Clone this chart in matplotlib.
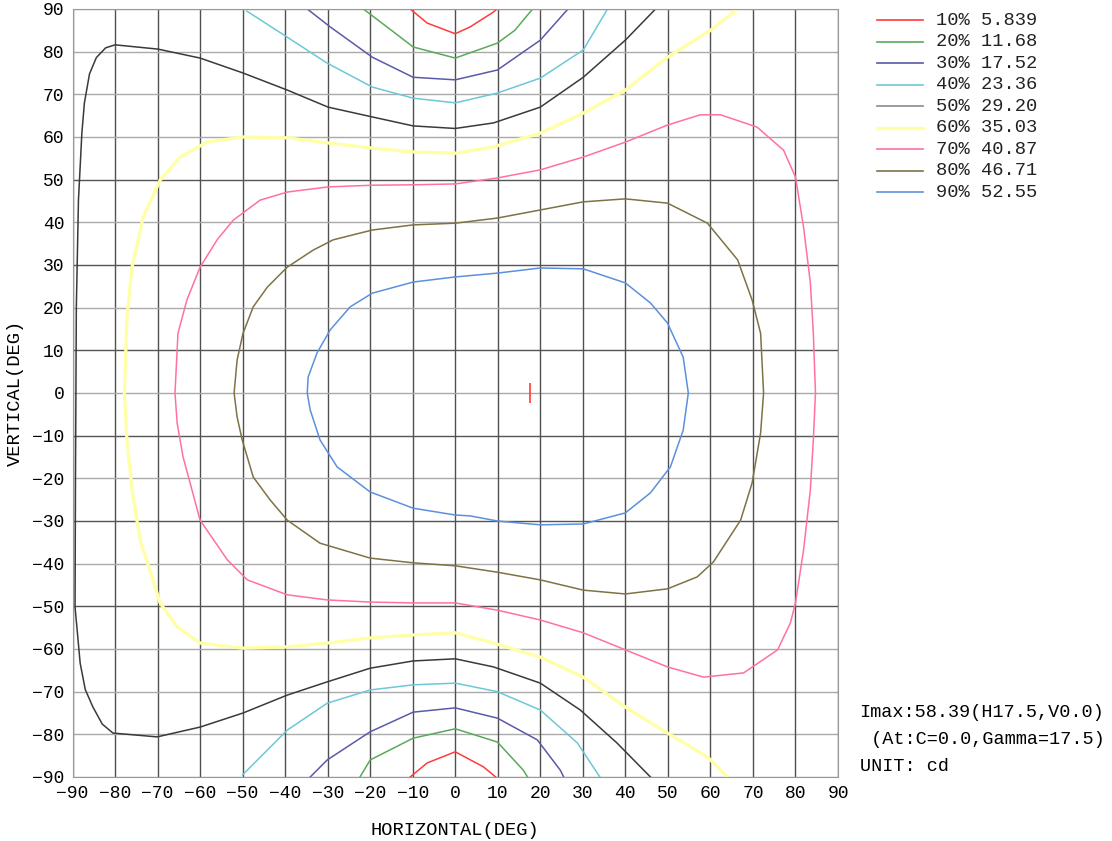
import matplotlib.pyplot as plt
from matplotlib.lines import Line2D

plt.rcParams['font.family'] = ['Liberation Mono', 'DejaVu Sans Mono']

# legend levels (percent of Imax and value in cd)
percents = [10, 20, 30, 40, 50, 60, 70, 80, 90]
values = ["5.839", "11.68", "17.52", "23.36", "29.20", "35.03", "40.87", "46.71", "52.55"]
colors = ['#ff3b3b', '#5aaa5a', '#5a5aa8', '#6cc8d8', '#8a8a8a',
          '#ffffa8', '#ff70a6', '#7d7345', '#5d90dc']

# isocandela lines (H deg, V deg)
c10_top_x = [-10.6, -6.6, 0, 3.5, 9.0, 9.8]
c10_top_y = [90, 86.7, 84.2, 85.8, 89.3, 90]
c10_bot_x = [-10.6, -6.6, 0, 6.6, 9.5]
c10_bot_y = [-90, -86.7, -84.1, -87.6, -90]

c20_top_x = [-21.6, -15, -9.9, 0, 9.9, 14, 17.6, 18.2]
c20_top_y = [90, 85, 81.1, 78.5, 82, 85, 89.3, 90]
c20_bot_x = [-22.4, -20, -9.9, 0, 9.9, 16, 17]
c20_bot_y = [-90, -86, -80.9, -78.7, -81.8, -88.4, -90]

c30_top_x = [-34.8, -29.4, -19.5, -9.9, 0, 9.9, 20, 26.5]
c30_top_y = [90, 85.8, 78.7, 74, 73.4, 75.7, 82.7, 90]
c30_bot_x = [-34.1, -30.1, -20, -9.9, 0, 9.9, 19.3, 24.7, 25.5]
c30_bot_y = [-90, -86, -79.4, -74.8, -73.8, -76.2, -81.3, -88.4, -90]

c40_top_x = [-49, -39.5, -30.1, -19.5, -9.9, 0, 9.9, 20, 30.1, 35.8]
c40_top_y = [89.5, 83.4, 77.3, 71.7, 69.1, 68, 70.3, 73.8, 80.4, 90]
c40_bot_x = [-50, -39.5, -30.1, -20, -9.9, 0, 9.9, 20, 28.7, 34]
c40_bot_y = [-89.5, -79, -72.7, -69.6, -68.4, -68, -70, -74.3, -82, -90]

c50_x = [47.1, 40, 30.1, 20, 9, 0, -9.9, -19.5, -29.9, -39.5, -49.9, -60, -69.9, -80,
         -82.2, -84.4, -86.0, -87.2, -87.8, -88.6, -89.1, -89.2, -89.3, -89.4, -88.2,
         -87.0, -85.2, -83.0, -80.5, -70.1,
         -60, -49.9, -39.5, -30.1, -20, -9.9, 0, 9, 20, 29.4, 38, 45.9]
c50_y = [90, 82.7, 74, 67, 63.3, 62, 62.6, 64.7, 67, 71, 75, 78.5, 80.6, 81.6,
         80.9, 78.6, 74.8, 68.0, 60.9, 45.2, 20, 0, -20, -50.2, -63.3,
         -69.5, -73.6, -77.6, -79.7, -80.6,
         -78.3, -75, -70.8, -67.7, -64.5, -62.8, -62.3, -64.2, -68, -74.3, -82, -90]

c60_x = [66.4, 60, 49.9, 40, 30.1, 20, 9, 0, -9.9, -19.5, -29.9, -39.5, -49.9, -58.4,
         -64.7, -69.4, -73.4, -76, -77.2, -77.8, -77.2, -76, -74.1, -71.3, -69.4, -65.4,
         -60, -49.9, -39.5, -30.1, -20, -9.9, 0, 9, 20, 30.1, 40, 49.9, 59.3, 64]
c60_y = [90, 85, 78.7, 71, 65.6, 60.9, 57.7, 56.2, 56.5, 57.4, 58.6, 59.8, 60, 58.8,
         55.3, 49.9, 41.2, 29.5, 17.8, 0, -11, -22.7, -34.5, -43.1, -49.2, -54.8,
         -58.6, -59.8, -59.5, -58.6, -57.4, -56.7, -56.2, -58.6, -61.9, -66.6, -73.6,
         -79.7, -85.3, -90]

c70_x = [0, -9.9, -19.5, -29.9, -39.5, -45.9, -52.2, -56, -60, -63.1,
         -65.2, -65.9, -65.4, -64, -60, -53.6, -48.9, -39.5, -30.1, -20,
         -9.9, 0, 9.9, 20, 30.1, 40, 49.9, 58.4, 67.8, 75.8,
         78.8, 80, 81.9, 83.5, 84.2, 84.7, 84.2, 83.5, 81.9, 80,
         77.2, 71, 62.4, 57.6, 49.9, 40, 30.1, 20, 9.9, 0]
c70_y = [49, 48.8, 48.7, 48.3, 47.1, 45.2, 40.5, 35.9, 29.5, 21.8,
         14, 0, -7, -15, -29.8, -39.1, -43.8, -47.3, -48.5, -49,
         -49.2, -49.2, -50.9, -53.2, -56.2, -60.2, -64.2, -66.6, -65.6, -60.2,
         -53.9, -49.2, -36.8, -22.7, -11, 0, 14, 25.8, 38.9, 50.6,
         56.9, 62.3, 65.2, 65.2, 62.8, 58.8, 55.3, 52.3, 50.4, 49]

c80_x = [0, -9.9, -19.5, -28.7, -33.4, -39.5, -44.2, -47.5, -49.9, -51.3,
         -52, -51.3, -50.1, -47.5, -43.5, -39.5, -31.8, -20, -9.9, 0,
         9.9, 20, 30.1, 40, 49.9, 56.9, 60.7, 67.1, 69.8, 71.8,
         72.5, 71.8, 69.8, 66.4, 59.3, 49.9, 40, 30.1, 20, 9.9, 0]
c80_y = [39.8, 39.4, 38.2, 35.9, 33.5, 29.5, 24.8, 20.2, 14, 7.7,
         0, -5.6, -11, -19.7, -25.1, -29.8, -35.2, -38.7, -39.8, -40.5,
         -42, -43.8, -46.2, -47.1, -45.9, -43.1, -39.6, -29.8, -21.1, -9.4,
         0, 14, 21.8, 31.2, 39.8, 44.5, 45.5, 44.8, 42.9, 41, 39.8]

c90_x = [0, -9.9, -19.5, -24.7, -29.4, -32.5, -34.6, -34.8, -34.1, -31.8,
         -27.8, -20, -9.9, 0, 3.5, 9.9, 20, 30.1, 40, 45.9,
         50.6, 53.6, 54.8, 53.6, 49.9, 45.9, 40, 30.1, 20, 9.9, 0]
c90_y = [27.2, 26, 23.4, 20.2, 14.8, 9.4, 3.7, 0, -4, -11,
         -17.3, -23.2, -27, -28.6, -28.8, -30, -30.9, -30.7, -28.1, -23.4,
         -17.3, -8.7, 0, 8.4, 16.4, 21.1, 25.8, 29.1, 29.3, 28.1, 27.2]

imax_h, imax_v = 17.5, 0.0
ticks = list(range(-90, 91, 10))

fig = plt.figure(figsize=(11.12, 8.41), dpi=100)
ax = fig.add_axes([0.0652, 0.0761, 0.6884, 0.9132])

# grid: vertical lines dark, horizontal alternate dark / light
for t in ticks:
    ax.axvline(t, color='#505050', lw=1.0, zorder=0)
    hc = '#555555' if (t // 10) % 2 != 0 and abs(t) <= 50 else '#aaaaaa'
    ax.axhline(t, color=hc, lw=1.0, zorder=0)

segments = [
    (c10_top_x, c10_top_y, 0), (c10_bot_x, c10_bot_y, 0),
    (c20_top_x, c20_top_y, 1), (c20_bot_x, c20_bot_y, 1),
    (c30_top_x, c30_top_y, 2), (c30_bot_x, c30_bot_y, 2),
    (c40_top_x, c40_top_y, 3), (c40_bot_x, c40_bot_y, 3),
    (c50_x, c50_y, 4), (c60_x, c60_y, 5), (c70_x, c70_y, 6),
    (c80_x, c80_y, 7), (c90_x, c90_y, 8),
]
for xs, ys, i in segments:
    lw = 2.4 if i == 5 else 1.1
    col = '#3a3a3a' if i == 4 else colors[i]
    ax.plot(xs, ys, color=col, lw=lw, zorder=2)

ax.plot([imax_h], [imax_v], marker='|', color='#ff3b3b', markersize=14, mew=1.2, zorder=3)

ax.set_xlim(-90, 90)
ax.set_ylim(-90, 90)
ax.set_xticks(ticks)
ax.set_yticks(ticks)
ax.tick_params(length=0, labelsize=13, pad=6)
for s in ax.spines.values():
    s.set_color('#999999')
ax.set_xlabel("HORIZONTAL(DEG)", fontsize=13.5, labelpad=14)
ax.set_ylabel("VERTICAL(DEG)", fontsize=13.5, labelpad=6)

# legend, drawn on the figure
for i, (p, v) in enumerate(zip(percents, values)):
    yy = 0.976 - i * 0.0256
    lw = 2.4 if i == 5 else 1.2
    fig.add_artist(Line2D([0.789, 0.830], [yy, yy], color=colors[i], lw=lw,
                          transform=fig.transFigure))
    fig.text(0.842, yy, f"{p}% {v}", fontsize=13.5, va='center', ha='left', color='#222222')

fig.text(0.773, 0.153, f"Imax:58.39(H{imax_h},V{imax_v})", fontsize=13.3, va='center')
fig.text(0.773, 0.121, " (At:C=0.0,Gamma=17.5)", fontsize=13.3, va='center')
fig.text(0.773, 0.089, "UNIT: cd", fontsize=13.3, va='center')

fig.savefig("out.png", dpi=100)
